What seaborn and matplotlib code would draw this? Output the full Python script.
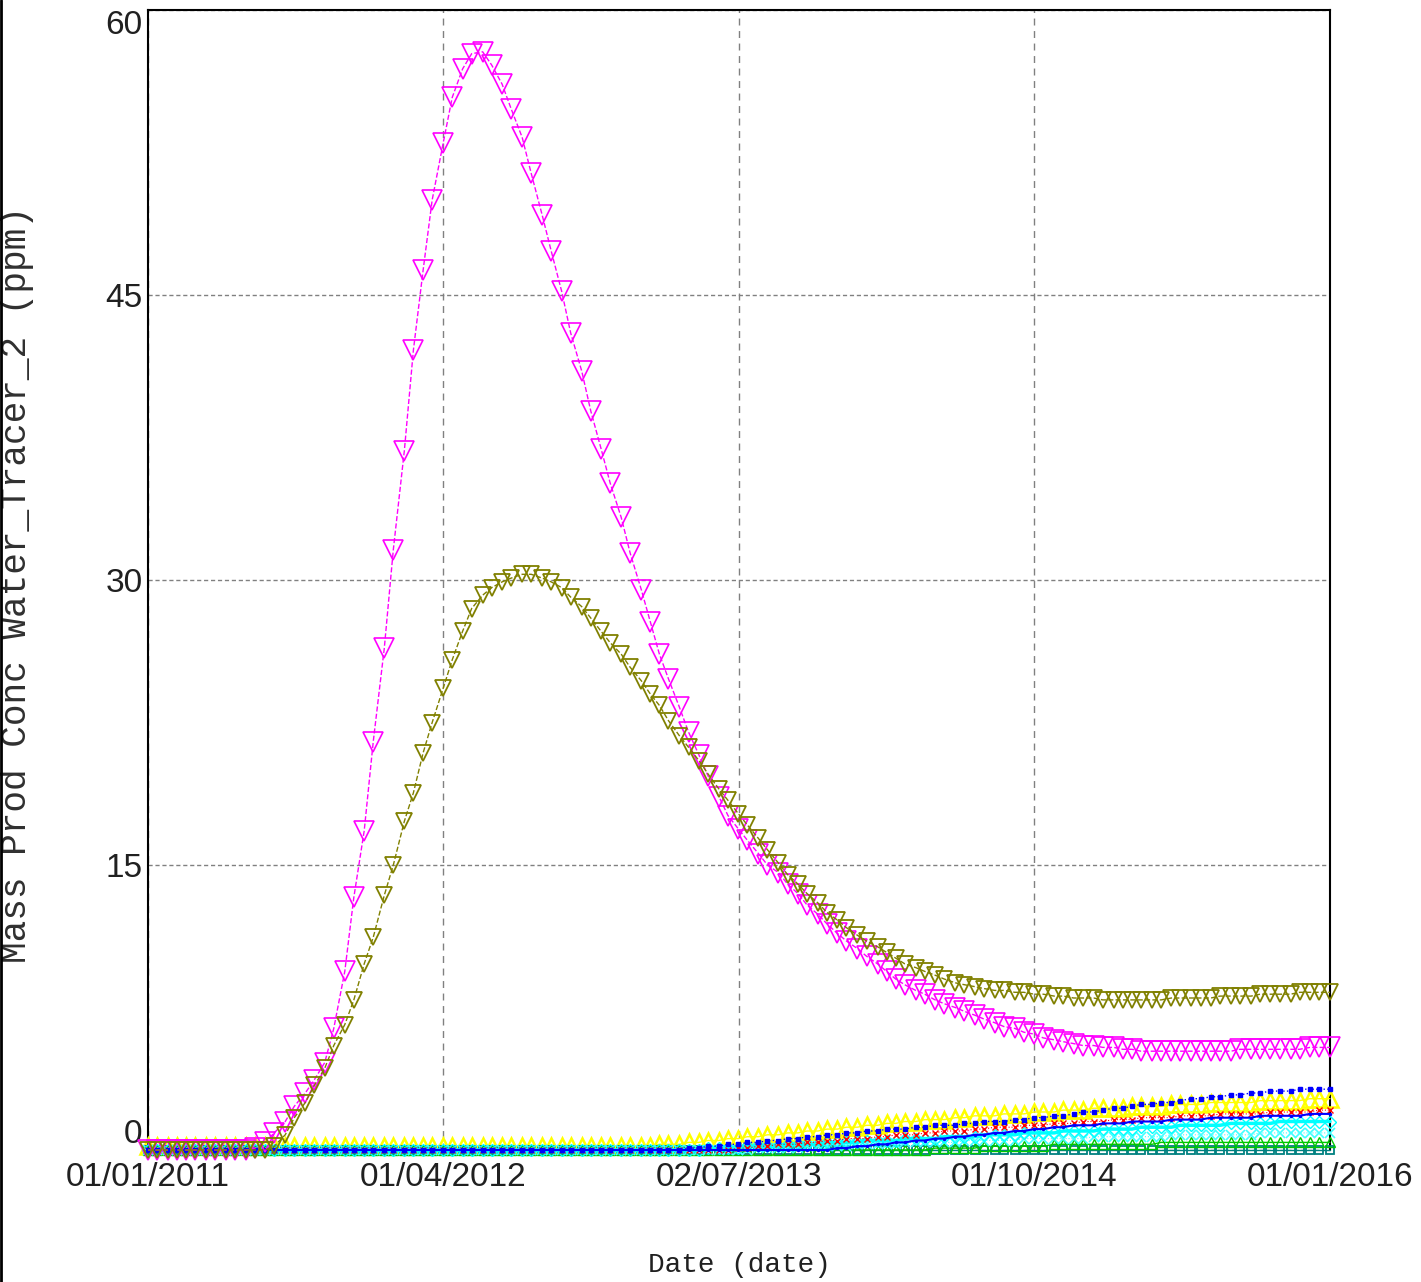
import numpy as np
import pandas as pd
import matplotlib
matplotlib.use('Agg')
import matplotlib.pyplot as plt
import seaborn as sns
from matplotlib.lines import Line2D

# ---------------- data ----------------
dates = pd.date_range('2011-01-01', '2016-01-01', freq='SMS')  # 121 sampling dates

magenta = [
    0.0, 0.0, 0.0, 0.0, 0.0, 0.0, 0.0, 0.0, 0.0, 0.0,
    0.0, 0.1, 0.4, 0.9, 1.5, 2.3, 3.0, 3.7, 4.6, 6.4,
    9.4, 13.3, 16.8, 21.5, 26.4, 31.6, 36.8, 42.1, 46.3, 50.0,
    53.0, 55.4, 56.9, 57.7, 57.8, 57.1, 56.1, 54.8, 53.3, 51.4,
    49.2, 47.3, 45.2, 43.0, 41.0, 38.9, 36.9, 35.1, 33.3, 31.4,
    29.5, 27.8, 26.1, 24.8, 23.3, 22.0, 20.8, 19.7, 18.6, 17.6,
    16.9, 16.3, 15.6, 15.0, 14.6, 14.0, 13.5, 12.9, 12.4, 11.9,
    11.4, 11.0, 10.6, 10.2, 9.8, 9.4, 9.0, 8.7, 8.4, 8.2,
    7.9, 7.7, 7.5, 7.3, 7.1, 6.9, 6.7, 6.5, 6.4, 6.2,
    6.1, 5.9, 5.8, 5.7, 5.6, 5.5, 5.5, 5.4, 5.4, 5.3,
    5.3, 5.2, 5.2, 5.2, 5.2, 5.2, 5.2, 5.2, 5.2, 5.2,
    5.2, 5.3, 5.3, 5.3, 5.3, 5.3, 5.3, 5.3, 5.4, 5.4,
    5.4]

olive = [
    0.0, 0.0, 0.0, 0.0, 0.0, 0.0, 0.0, 0.0, 0.0, 0.0,
    0.0, 0.0, 0.0, 0.2, 0.8, 1.7, 2.5, 3.4, 4.3, 5.5,
    6.6, 7.9, 9.8, 11.2, 13.4, 15.0, 17.3, 18.8, 20.9, 22.5,
    24.3, 25.8, 27.3, 28.5, 29.2, 29.6, 29.9, 30.1, 30.3, 30.3,
    30.1, 29.9, 29.6, 29.1, 28.6, 28.0, 27.3, 26.7, 26.1, 25.4,
    24.7, 24.0, 23.4, 22.6, 21.8, 21.2, 20.5, 19.8, 19.0, 18.4,
    17.7, 17.1, 16.4, 15.8, 15.1, 14.5, 14.0, 13.5, 13.0, 12.5,
    12.1, 11.7, 11.3, 11.0, 10.7, 10.4, 10.1, 9.8, 9.6, 9.4,
    9.2, 9.0, 8.8, 8.7, 8.6, 8.5, 8.4, 8.4, 8.3, 8.3,
    8.2, 8.2, 8.1, 8.1, 8.0, 8.0, 8.0, 7.9, 7.9, 7.9,
    7.9, 7.9, 7.9, 7.9, 8.0, 8.0, 8.0, 8.0, 8.0, 8.1,
    8.1, 8.1, 8.1, 8.2, 8.2, 8.2, 8.2, 8.3, 8.3, 8.3,
    8.3]

yellow = [
    0.2, 0.2, 0.2, 0.2, 0.2, 0.2, 0.2, 0.2, 0.2, 0.2,
    0.2, 0.2, 0.2, 0.2, 0.2, 0.2, 0.2, 0.2, 0.2, 0.2,
    0.2, 0.2, 0.2, 0.2, 0.2, 0.2, 0.2, 0.2, 0.2, 0.2,
    0.2, 0.2, 0.2, 0.2, 0.2, 0.2, 0.2, 0.2, 0.2, 0.2,
    0.2, 0.2, 0.2, 0.2, 0.2, 0.2, 0.2, 0.2, 0.2, 0.2,
    0.2, 0.2, 0.3, 0.3, 0.3, 0.4, 0.4, 0.5, 0.5, 0.6,
    0.6, 0.7, 0.7, 0.8, 0.8, 0.9, 0.9, 1.0, 1.0, 1.1,
    1.1, 1.2, 1.2, 1.3, 1.3, 1.4, 1.4, 1.5, 1.5, 1.6,
    1.6, 1.6, 1.7, 1.7, 1.8, 1.8, 1.8, 1.9, 1.9, 1.9,
    2.0, 2.0, 2.0, 2.1, 2.1, 2.1, 2.2, 2.2, 2.2, 2.2,
    2.3, 2.3, 2.3, 2.3, 2.4, 2.4, 2.4, 2.4, 2.5, 2.5,
    2.5, 2.5, 2.5, 2.6, 2.6, 2.6, 2.6, 2.6, 2.7, 2.7,
    2.7]

blue_upper = [
    0.0, 0.0, 0.0, 0.0, 0.0, 0.0, 0.0, 0.0, 0.0, 0.0,
    0.0, 0.0, 0.0, 0.0, 0.0, 0.0, 0.0, 0.0, 0.0, 0.0,
    0.0, 0.0, 0.0, 0.0, 0.0, 0.0, 0.0, 0.0, 0.0, 0.0,
    0.0, 0.0, 0.0, 0.0, 0.0, 0.0, 0.0, 0.0, 0.0, 0.0,
    0.0, 0.0, 0.0, 0.0, 0.0, 0.0, 0.0, 0.0, 0.0, 0.0,
    0.0, 0.0, 0.0, 0.0, 0.0, 0.1, 0.1, 0.2, 0.2, 0.3,
    0.3, 0.4, 0.4, 0.5, 0.5, 0.6, 0.6, 0.7, 0.7, 0.8,
    0.8, 0.9, 0.9, 1.0, 1.0, 1.1, 1.1, 1.1, 1.2, 1.2,
    1.3, 1.3, 1.3, 1.4, 1.4, 1.5, 1.5, 1.5, 1.6, 1.6,
    1.7, 1.7, 1.8, 1.8, 1.9, 2.0, 2.0, 2.1, 2.2, 2.2,
    2.3, 2.4, 2.4, 2.5, 2.5, 2.6, 2.7, 2.7, 2.8, 2.8,
    2.9, 2.9, 3.0, 3.0, 3.1, 3.1, 3.1, 3.2, 3.2, 3.2,
    3.2]

red = [
    0.0, 0.0, 0.0, 0.0, 0.0, 0.0, 0.0, 0.0, 0.0, 0.0,
    0.0, 0.0, 0.0, 0.0, 0.0, 0.0, 0.0, 0.0, 0.0, 0.0,
    0.0, 0.0, 0.0, 0.0, 0.0, 0.0, 0.0, 0.0, 0.0, 0.0,
    0.0, 0.0, 0.0, 0.0, 0.0, 0.0, 0.0, 0.0, 0.0, 0.0,
    0.0, 0.0, 0.0, 0.0, 0.0, 0.0, 0.0, 0.0, 0.0, 0.0,
    0.0, 0.0, 0.0, 0.0, 0.0, 0.0, 0.0, 0.0, 0.0, 0.0,
    0.1, 0.1, 0.2, 0.2, 0.3, 0.3, 0.3, 0.4, 0.4, 0.5,
    0.5, 0.6, 0.6, 0.6, 0.7, 0.7, 0.8, 0.8, 0.8, 0.9,
    0.9, 1.0, 1.0, 1.0, 1.1, 1.1, 1.2, 1.2, 1.2, 1.3,
    1.3, 1.3, 1.4, 1.4, 1.4, 1.5, 1.5, 1.5, 1.6, 1.6,
    1.6, 1.7, 1.7, 1.7, 1.7, 1.8, 1.8, 1.8, 1.8, 1.9,
    1.9, 1.9, 1.9, 1.9, 2.0, 2.0, 2.0, 2.0, 2.0, 2.1,
    2.1]

blue_lower = [
    0.0, 0.0, 0.0, 0.0, 0.0, 0.0, 0.0, 0.0, 0.0, 0.0,
    0.0, 0.0, 0.0, 0.0, 0.0, 0.0, 0.0, 0.0, 0.0, 0.0,
    0.0, 0.0, 0.0, 0.0, 0.0, 0.0, 0.0, 0.0, 0.0, 0.0,
    0.0, 0.0, 0.0, 0.0, 0.0, 0.0, 0.0, 0.0, 0.0, 0.0,
    0.0, 0.0, 0.0, 0.0, 0.0, 0.0, 0.0, 0.0, 0.0, 0.0,
    0.0, 0.0, 0.0, 0.0, 0.0, 0.0, 0.0, 0.0, 0.0, 0.0,
    0.0, 0.0, 0.0, 0.0, 0.0, 0.0, 0.0, 0.0, 0.0, 0.0,
    0.1, 0.1, 0.2, 0.2, 0.3, 0.3, 0.4, 0.4, 0.5, 0.5,
    0.6, 0.6, 0.7, 0.7, 0.8, 0.8, 0.9, 0.9, 1.0, 1.0,
    1.1, 1.1, 1.2, 1.2, 1.3, 1.3, 1.3, 1.4, 1.4, 1.4,
    1.5, 1.5, 1.5, 1.5, 1.6, 1.6, 1.6, 1.6, 1.7, 1.7,
    1.7, 1.7, 1.7, 1.8, 1.8, 1.8, 1.8, 1.8, 1.9, 1.9,
    1.9]

cyan_solid = [
    0.0, 0.0, 0.0, 0.0, 0.0, 0.0, 0.0, 0.0, 0.0, 0.0,
    0.0, 0.0, 0.0, 0.0, 0.0, 0.0, 0.0, 0.0, 0.0, 0.0,
    0.0, 0.0, 0.0, 0.0, 0.0, 0.0, 0.0, 0.0, 0.0, 0.0,
    0.0, 0.0, 0.0, 0.0, 0.0, 0.0, 0.0, 0.0, 0.0, 0.0,
    0.0, 0.0, 0.0, 0.0, 0.0, 0.0, 0.0, 0.0, 0.0, 0.0,
    0.0, 0.0, 0.0, 0.0, 0.0, 0.0, 0.0, 0.1, 0.1, 0.1,
    0.1, 0.2, 0.2, 0.2, 0.2, 0.3, 0.3, 0.3, 0.3, 0.4,
    0.4, 0.4, 0.4, 0.5, 0.5, 0.5, 0.5, 0.6, 0.6, 0.6,
    0.6, 0.7, 0.7, 0.7, 0.7, 0.8, 0.8, 0.8, 0.8, 0.9,
    0.9, 0.9, 0.9, 1.0, 1.0, 1.0, 1.0, 1.1, 1.1, 1.1,
    1.1, 1.2, 1.2, 1.2, 1.2, 1.3, 1.3, 1.3, 1.3, 1.3,
    1.4, 1.4, 1.4, 1.4, 1.4, 1.5, 1.5, 1.5, 1.5, 1.5,
    1.5]

cyan_cross = [
    0.0, 0.0, 0.0, 0.0, 0.0, 0.0, 0.0, 0.0, 0.0, 0.0,
    0.0, 0.0, 0.0, 0.0, 0.0, 0.0, 0.0, 0.0, 0.0, 0.0,
    0.0, 0.0, 0.0, 0.0, 0.0, 0.0, 0.0, 0.0, 0.0, 0.0,
    0.0, 0.0, 0.0, 0.0, 0.0, 0.0, 0.0, 0.0, 0.0, 0.0,
    0.0, 0.0, 0.0, 0.0, 0.0, 0.0, 0.0, 0.0, 0.0, 0.0,
    0.0, 0.0, 0.0, 0.0, 0.0, 0.0, 0.0, 0.0, 0.0, 0.0,
    0.0, 0.0, 0.1, 0.1, 0.1, 0.1, 0.1, 0.2, 0.2, 0.2,
    0.2, 0.2, 0.3, 0.3, 0.3, 0.3, 0.3, 0.4, 0.4, 0.4,
    0.4, 0.4, 0.4, 0.5, 0.5, 0.5, 0.5, 0.5, 0.5, 0.6,
    0.6, 0.6, 0.6, 0.6, 0.6, 0.6, 0.7, 0.7, 0.7, 0.7,
    0.7, 0.7, 0.7, 0.7, 0.8, 0.8, 0.8, 0.8, 0.8, 0.8,
    0.8, 0.8, 0.8, 0.9, 0.9, 0.9, 0.9, 0.9, 0.9, 0.9,
    0.9]

green = [
    0.0, 0.0, 0.0, 0.0, 0.0, 0.0, 0.0, 0.0, 0.0, 0.0,
    0.0, 0.0, 0.0, 0.0, 0.0, 0.0, 0.0, 0.0, 0.0, 0.0,
    0.0, 0.0, 0.0, 0.0, 0.0, 0.0, 0.0, 0.0, 0.0, 0.0,
    0.0, 0.0, 0.0, 0.0, 0.0, 0.0, 0.0, 0.0, 0.0, 0.0,
    0.0, 0.0, 0.0, 0.0, 0.0, 0.0, 0.0, 0.0, 0.0, 0.0,
    0.0, 0.0, 0.0, 0.0, 0.0, 0.0, 0.0, 0.0, 0.0, 0.0,
    0.0, 0.0, 0.0, 0.0, 0.0, 0.0, 0.0, 0.0, 0.0, 0.0,
    0.0, 0.0, 0.0, 0.0, 0.0, 0.0, 0.0, 0.0, 0.0, 0.0,
    0.1, 0.1, 0.1, 0.1, 0.1, 0.2, 0.2, 0.2, 0.2, 0.2,
    0.2, 0.2, 0.3, 0.3, 0.3, 0.3, 0.3, 0.3, 0.3, 0.3,
    0.3, 0.3, 0.3, 0.4, 0.4, 0.4, 0.4, 0.4, 0.4, 0.4,
    0.4, 0.4, 0.4, 0.4, 0.4, 0.4, 0.4, 0.4, 0.4, 0.4,
    0.4]

teal = [
    0.0, 0.0, 0.0, 0.0, 0.0, 0.0, 0.0, 0.0, 0.0, 0.0,
    0.0, 0.0, 0.0, 0.0, 0.0, 0.0, 0.0, 0.0, 0.0, 0.0,
    0.0, 0.0, 0.0, 0.0, 0.0, 0.0, 0.0, 0.0, 0.0, 0.0,
    0.0, 0.0, 0.0, 0.0, 0.0, 0.0, 0.0, 0.0, 0.0, 0.0,
    0.0, 0.0, 0.0, 0.0, 0.0, 0.0, 0.0, 0.0, 0.0, 0.0,
    0.0, 0.0, 0.0, 0.0, 0.0, 0.0, 0.0, 0.0, 0.0, 0.0,
    0.0, 0.0, 0.0, 0.0, 0.0, 0.0, 0.0, 0.0, 0.0, 0.0,
    0.0, 0.0, 0.0, 0.0, 0.0, 0.0, 0.0, 0.0, 0.0, 0.0,
    0.0, 0.0, 0.0, 0.0, 0.0, 0.0, 0.0, 0.0, 0.0, 0.0,
    0.0, 0.0, 0.0, 0.0, 0.0, 0.0, 0.0, 0.0, 0.0, 0.0,
    0.0, 0.0, 0.0, 0.0, 0.0, 0.0, 0.0, 0.0, 0.0, 0.0,
    0.0, 0.0, 0.0, 0.0, 0.0, 0.0, 0.0, 0.0, 0.0, 0.0,
    0.0]

tick_dates = ['2011-01-01', '2012-04-01', '2013-07-02', '2014-10-01', '2016-01-01']
tick_labels = ['01/01/2011', '01/04/2012', '02/07/2013', '01/10/2014', '01/01/2016']
y_ticks = [0, 15, 30, 45, 60]
x_label = 'Date (date)'
y_label = 'Mass Prod Conc Water_Tracer_2 (ppm)'

# ---------------- style ----------------
sns.set_theme(style='white')
plt.rcParams['font.family'] = ['Liberation Sans', 'DejaVu Sans']

W, H = 1421, 1282
fig = plt.figure(figsize=(W / 100, H / 100), dpi=100)
fig.patch.set_facecolor('white')
ax = fig.add_axes([148 / W, 1 - 1150 / H, 1182 / W, 1140 / H])
ax.set_facecolor('white')

# (values, color, marker, ms, mfc, linestyle, lw, mew, zorder)
series = [
    (yellow,     '#FFFF00', '^', 12, 'none',    '-',  1.0, 1.8, 3.0),
    (teal,       '#008080', 's', 6,  'none',    '-',  1.0, 1.3, 3.05),
    (green,      '#00C800', '^', 7,  'none',    '-',  1.0, 1.0, 3.1),
    (cyan_cross, '#40FFFF', 'x', 7,  'none',    ':',  0.8, 1.2, 3.2),
    (cyan_solid, '#00FFFF', 'D', 6,  'none',    '-',  2.5, 1.0, 3.3),
    (red,        '#FF0000', 'x', 5,  'none',    ':',  0.8, 1.0, 3.4),
    (blue_lower, '#0000FF', '.', 3,  '#0000FF', '-',  1.5, 1.0, 3.5),
    (blue_upper, '#0000FF', 's', 3,  '#0000FF', ':',  1.0, 1.0, 3.6),
    (magenta,    '#FF00FF', 'v', 14, 'none',    '--', 1.0, 1.2, 4),
    (olive,      '#808000', 'v', 11, 'none',    '--', 1.0, 1.3, 5),
]

for vals, col, mk, ms, mfc, ls, lw, mew, z in series:
    sns.lineplot(x=dates, y=vals, ax=ax, color=col, marker=mk, markersize=ms,
                 markerfacecolor=mfc, markeredgecolor=col, markeredgewidth=mew,
                 linestyle=ls, linewidth=lw, clip_on=False, zorder=z)

ax.set_xlim(pd.Timestamp('2011-01-01'), pd.Timestamp('2016-01-01'))
ax.set_ylim(0, 60)

ax.set_xticks(pd.to_datetime(tick_dates))
ax.set_xticklabels(tick_labels, fontsize=24, color='#202020')
ax.set_yticks(y_ticks)
ax.set_yticklabels([str(v) for v in y_ticks], fontsize=24, color='#202020')
ax.tick_params(axis='both', length=0)
ax.tick_params(axis='x', pad=9)
ax.tick_params(axis='y', pad=4)
ylabs = ax.get_yticklabels()
ylabs[0].set_va('bottom')
ylabs[-1].set_va('top')

ax.xaxis.grid(True, color='#808080', linestyle=(0, (5, 4)), linewidth=1.0)
ax.yaxis.grid(True, color='#808080', linestyle=(0, (3, 2)), linewidth=1.0)
ax.set_axisbelow(True)

for side in ['left', 'top', 'right']:
    ax.spines[side].set_visible(True)
    ax.spines[side].set_color('black')
    ax.spines[side].set_linewidth(1.5)
    ax.spines[side].set_zorder(2)
ax.spines['bottom'].set_visible(False)

ax.set_xlabel(x_label, fontsize=20, family='Liberation Mono', color='#202020')
ax.xaxis.set_label_coords(0.5, -0.101)
ax.xaxis.label.set_va('center')
ax.set_ylabel(y_label, fontsize=26, family='Liberation Mono', color='#303030')
ax.yaxis.set_label_coords(-0.111, 0.4956)
ax.yaxis.label.set_va('center')

fig.add_artist(Line2D([0.0008, 0.0008], [0, 1], transform=fig.transFigure,
                      color='black', linewidth=2))

fig.savefig('out.png', dpi=100, facecolor='white')
